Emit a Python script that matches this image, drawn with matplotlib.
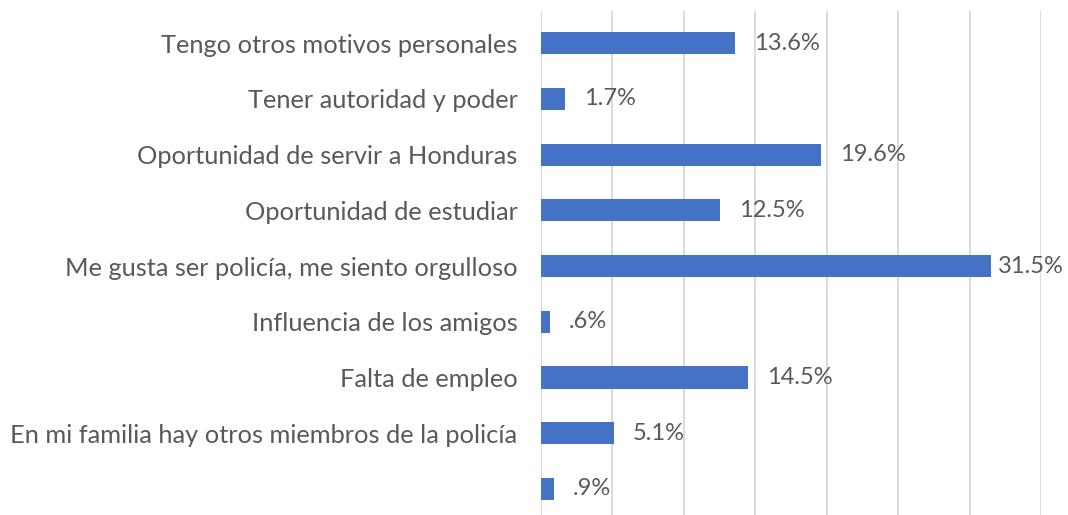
import matplotlib
matplotlib.use("Agg")
import matplotlib.pyplot as plt
import numpy as np

# categories listed bottom -> top (as drawn)
categories = [
    "",
    "En mi familia hay otros miembros de la policía",
    "Falta de empleo",
    "Influencia de los amigos",
    "Me gusta ser policía, me siento orgulloso",
    "Oportunidad de estudiar",
    "Oportunidad de servir a Honduras",
    "Tener autoridad y poder",
    "Tengo otros motivos personales",
]
values = [0.9, 5.1, 14.5, 0.6, 31.5, 12.5, 19.6, 1.7, 13.6]
value_labels = [".9%", "5.1%", "14.5%", ".6%", "31.5%", "12.5%", "19.6%", "1.7%", "13.6%"]
x_ticks = [0, 5, 10, 15, 20, 25, 30, 35]

plt.rcParams['font.family'] = ['Lato', 'DejaVu Sans']
text_color = '#595959'
bar_color = '#4472C4'
grid_color = '#D9D9D9'

fig = plt.figure(figsize=(10.68, 5.15), dpi=100)
ax = fig.add_axes([0.5066, -0.0031, 0.4682, 0.9817])

y = np.arange(len(categories))
ax.barh(y, values, height=0.4, color=bar_color, zorder=2)

# data labels
for yi, v, lab in zip(y, values, value_labels):
    pad = 5 if v > 30 else 13.7
    ax.annotate(lab, (v, yi), xytext=(pad, 0), textcoords='offset points',
                va='center', ha='left', fontsize=17, color=text_color,
                annotation_clip=False)

ax.set_xlim(0, 35)
ax.set_ylim(-0.5, 8.58)
ax.set_xticks(x_ticks)
ax.set_xticklabels([])
ax.tick_params(axis='x', length=0)
ax.set_yticks(y)
ax.set_yticklabels(categories, fontsize=18.3, color=text_color)
ax.tick_params(axis='y', length=0, pad=17)

ax.grid(axis='x', color=grid_color, linewidth=1.3, zorder=0)
for s in ['top', 'right', 'bottom', 'left']:
    ax.spines[s].set_visible(False)

fig.savefig("out.png", dpi=100)
